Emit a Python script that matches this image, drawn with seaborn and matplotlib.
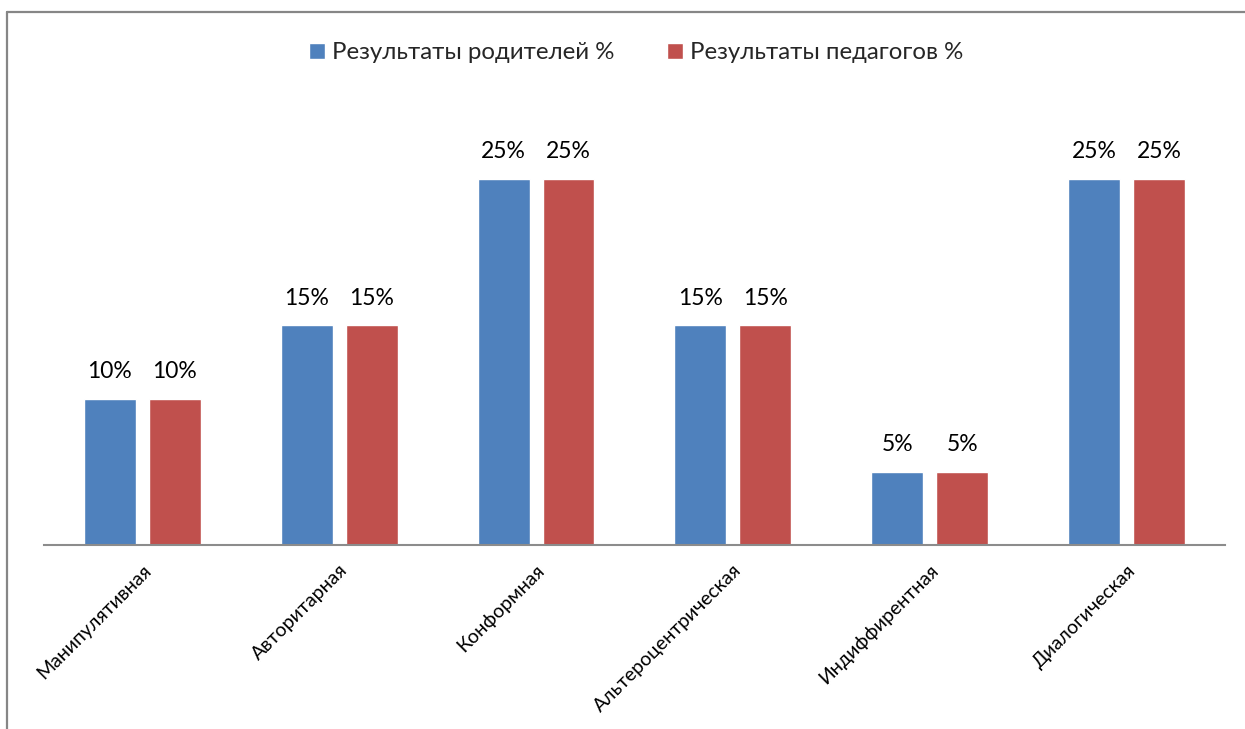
import matplotlib
matplotlib.use("Agg")
import matplotlib.pyplot as plt
from matplotlib.lines import Line2D
import seaborn as sns
import pandas as pd

categories = ["Манипулятивная", "Авторитарная", "Конформная",
              "Альтероцентрическая", "Индиффирентная", "Диалогическая"]
parents = [10, 15, 25, 15, 5, 25]
teachers = [10, 15, 25, 15, 5, 25]
series_names = ["Результаты родителей %", "Результаты педагогов %"]
colors = ["#4F81BD", "#C0504D"]

df = pd.DataFrame({
    "category": categories * 2,
    "value": parents + teachers,
    "series": [series_names[0]] * len(categories) + [series_names[1]] * len(categories),
})

sns.set_theme(style="white")
plt.rcParams["font.family"] = ["Lato", "DejaVu Sans"]

fig = plt.figure(figsize=(12.45, 7.29), dpi=100)
ax = fig.add_axes([0.0353, 0.2524, 0.9486, 0.6022])

sns.barplot(data=df, x="category", y="value", hue="series", order=categories,
            hue_order=series_names, palette=colors, width=0.66, gap=0.2,
            saturation=1, ax=ax, errorbar=None)

ax.set_ylim(0, 30)
ax.set_xlim(-0.5, len(categories) - 0.5)
ax.set_xlabel("")
ax.set_ylabel("")
ax.set_yticks([])
for side in ["top", "right", "left"]:
    ax.spines[side].set_visible(False)
ax.spines["bottom"].set_color("#8c8c8c")
ax.spines["bottom"].set_linewidth(1.5)
ax.tick_params(axis="x", length=0, pad=12)
ax.set_xticks(range(len(categories)))
ax.set_xticklabels(categories, rotation=45, ha="right", rotation_mode="anchor",
                   fontsize=14, color="black")

for cont in ax.containers:
    ax.bar_label(cont, labels=[f"{int(v)}%" for v in cont.datavalues],
                 padding=12, fontsize=16.5, color="black")

sns.move_legend(ax, "center", bbox_to_anchor=(0.511, 0.928),
                bbox_transform=fig.transFigure, ncol=2, frameon=False,
                title=None, fontsize=17.3, handlelength=0.65, handleheight=0.65,
                handletextpad=0.3, columnspacing=2.2)

# outer chart frame (left and top edges visible)
fig.add_artist(Line2D([7 / 1245, 7 / 1245], [0, 1 - 12 / 729],
                      transform=fig.transFigure, color="#868686", lw=1.6))
fig.add_artist(Line2D([7 / 1245, 1], [1 - 12 / 729, 1 - 12 / 729],
                      transform=fig.transFigure, color="#868686", lw=1.6))

fig.savefig("out.png", dpi=100, facecolor="white")
